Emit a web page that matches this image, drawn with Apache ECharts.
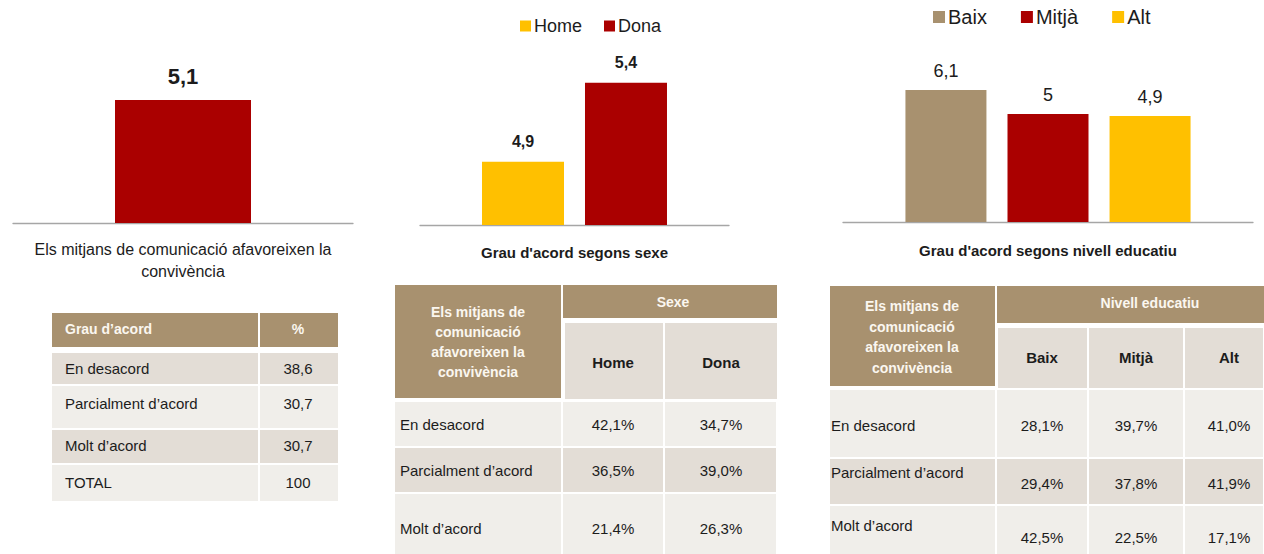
<!DOCTYPE html>
<html>
<head>
<meta charset="utf-8">
<script src="https://cdn.jsdelivr.net/npm/echarts@6/dist/echarts.min.js"></script>
<style>
html,body{margin:0;padding:0;background:#fff;}
#main{width:1264px;height:554px;}
</style>
</head>
<body>
<div id="main"></div>
<script>
// ---------- DATA ----------
const totalCaption = ['Els mitjans de comunicació afavoreixen la\nconvivència'];
const totalMean = [5.1];

const sexCaption = ["Grau d'acord segons sexe"];
const sexCats = ['Home', 'Dona'];
const sexMeans = [4.9, 5.4];

const eduCaption = ["Grau d'acord segons nivell educatiu"];
const eduCats = ['Baix', 'Mitjà', 'Alt'];
const eduMeans = [6.1, 5.0, 4.9];

const agreeRows = ['En desacord', 'Parcialment d’acord', 'Molt d’acord'];
const totalRowLabel = 'TOTAL';
const totalPct = [38.6, 30.7, 30.7];
const totalSum = [100];

const sexPct = {
  'Home': [42.1, 36.5, 21.4],
  'Dona': [34.7, 39.0, 26.3]
};
const eduPct = {
  'Baix': [28.1, 29.4, 42.5],
  'Mitjà': [39.7, 37.8, 22.5],
  'Alt': [41.0, 41.9, 17.1]
};
const t1Header = ['Grau d’acord', '%'];
const cornerHeader = 'Els mitjans de\ncomunicació\nafavoreixen la\nconvivència';
const sexGroupHeader = 'Sexe';
const eduGroupHeader = 'Nivell educatiu';

// ---------- STYLE ----------
const RED = '#aa0000', YEL = '#ffc000', TAN = '#a8916f';
const DARK_ROW = '#e3ddd6', LIGHT_ROW = '#f0eeea';
const HDR_TXT = '#fbf7f0', TXT = '#1c1c1c';
const FF = '"Liberation Sans", Arial, sans-serif';
const colorMap = { 'Home': YEL, 'Dona': RED, 'Baix': TAN, 'Mitjà': RED, 'Alt': YEL };

const comma = v => String(v).replace('.', ',');
const pct = v => v.toFixed(1).replace('.', ',') + '%';

// ---------- TABLE HELPERS ----------
const gfx = [];
function rect(x0, y0, x1, y1, fill) {
  gfx.push({ type: 'rect', silent: true, shape: { x: x0, y: y0, width: x1 - x0, height: y1 - y0 }, style: { fill: fill } });
}
function txt(x, y, text, opt) {
  opt = opt || {};
  gfx.push({
    type: 'text', silent: true, x: x, y: y,
    style: {
      text: text, fill: opt.color || TXT,
      font: (opt.bold ? 'bold ' : '') + (opt.size || 15) + 'px ' + FF,
      textAlign: opt.align || 'left', textVerticalAlign: 'middle',
      align: opt.align || 'left', verticalAlign: 'middle',
      lineHeight: opt.lineHeight || 18
    }
  });
}

// Table 1
(function () {
  const cols = [52, 259, 338];
  const hdr = [313, 347];
  const rows = [352, 385, 429, 464, 502];
  const textY = [368, 403, 445, 482];
  const valX = 298, labX = 65;
  rect(cols[0], hdr[0], cols[1] - 1, hdr[1], TAN);
  rect(cols[1] + 1, hdr[0], cols[2], hdr[1], TAN);
  txt(labX, 329, t1Header[0], { bold: true, color: HDR_TXT, size: 14 });
  txt(valX, 329, t1Header[1], { bold: true, color: HDR_TXT, align: 'center', size: 14 });
  const labels = agreeRows.concat([totalRowLabel]);
  const vals = totalPct.map(comma).concat(totalSum.map(String));
  for (let i = 0; i < labels.length; i++) {
    const c = i % 2 === 0 ? DARK_ROW : LIGHT_ROW;
    rect(cols[0], rows[i] + 1, cols[1] - 1, rows[i + 1] - 1, c);
    rect(cols[1] + 1, rows[i] + 1, cols[2], rows[i + 1] - 1, c);
    txt(labX, textY[i], labels[i]);
    txt(valX, textY[i], vals[i], { align: 'center' });
  }
})();

// Table 2 (sex)
(function () {
  rect(395, 285, 561, 398, TAN);
  txt(478, 342, cornerHeader, { bold: true, color: HDR_TXT, align: 'center', lineHeight: 20, size: 14 });
  rect(563, 285, 777, 318, TAN);
  txt(673, 302, sexGroupHeader, { bold: true, color: HDR_TXT, align: 'center', size: 14 });
  const subCols = [565, 664, 777];
  const centers = [613, 721];
  sexCats.forEach((c, j) => {
    rect(subCols[j] + (j ? 1 : 0), 323, subCols[j + 1] - (j ? 0 : 1), 399, DARK_ROW);
    txt(centers[j], 362, c, { bold: true, align: 'center' });
  });
  const cols = [395, 562, 664, 777];
  const rows = [401, 447, 493, 562];
  const textY = [424, 470, 528];
  agreeRows.forEach((lab, i) => {
    const fill = i % 2 === 0 ? LIGHT_ROW : DARK_ROW;
    for (let k = 0; k < 3; k++) rect(cols[k] + (k ? 1 : 0), rows[i] + 1, cols[k + 1] - 1, rows[i + 1] - 1, fill);
    txt(400, textY[i], lab);
    sexCats.forEach((c, j) => txt(centers[j], textY[i], pct(sexPct[c][i]), { align: 'center' }));
  });
})();

// Table 3 (education)
(function () {
  rect(830, 286, 995, 386, TAN);
  txt(912, 337, cornerHeader, { bold: true, color: HDR_TXT, align: 'center', lineHeight: 20.5, size: 14 });
  rect(997, 286, 1264, 323, TAN);
  txt(1150, 303, eduGroupHeader, { bold: true, color: HDR_TXT, align: 'center', size: 14 });
  const subCols = [998, 1088, 1184, 1264];
  const centers = [1042, 1136, 1229];
  eduCats.forEach((c, j) => {
    rect(subCols[j] + (j ? 1 : 0), 328, subCols[j + 1] - 1, 388, DARK_ROW);
    txt(centers[j], 357, c, { bold: true, align: 'center' });
  });
  const cols = [830, 996, 1088, 1184, 1264];
  const rows = [389, 458, 505, 562];
  const labY = [425, 472, 525];
  const valY = [425, 483, 537];
  agreeRows.forEach((lab, i) => {
    const fill = i % 2 === 0 ? LIGHT_ROW : DARK_ROW;
    for (let k = 0; k < 4; k++) rect(cols[k] + (k ? 1 : 0), rows[i] + 1, cols[k + 1] - 1, rows[i + 1] - 1, fill);
    txt(831, labY[i], lab);
    eduCats.forEach((c, j) => txt(centers[j], valY[i], pct(eduPct[c][i]), { align: 'center' }));
  });
})();

// ---------- CHARTS ----------
const axisLine = { show: true, lineStyle: { color: '#a6a6a6', width: 1.3 } };
function xCat(gridIndex, data, size, bold, margin) {
  return {
    type: 'category', gridIndex: gridIndex, data: data,
    axisLine: axisLine, axisTick: { show: false },
    axisLabel: { color: TXT, fontSize: size, fontWeight: bold ? 'bold' : 'normal', fontFamily: FF, margin: margin, lineHeight: 22, interval: 0 }
  };
}
function yVal(gridIndex, min, max) {
  return { type: 'value', gridIndex: gridIndex, min: min, max: max, show: false, splitLine: { show: false } };
}

const series = [];
series.push({
  type: 'bar', name: 'Total', xAxisIndex: 0, yAxisIndex: 0, data: totalMean,
  barWidth: 136, itemStyle: { color: RED },
  label: { show: true, position: 'top', distance: 12, formatter: p => comma(p.value), fontSize: 22, fontWeight: 'bold', color: TXT, fontFamily: FF }
});
sexCats.forEach((c, j) => series.push({
  type: 'bar', name: c, xAxisIndex: 1, yAxisIndex: 1, data: [sexMeans[j]],
  barWidth: 82, barGap: '25.6%', itemStyle: { color: colorMap[c] },
  label: { show: true, position: 'top', distance: 12, formatter: p => comma(p.value), fontSize: 16, fontWeight: 'bold', color: TXT, fontFamily: FF }
}));
eduCats.forEach((c, j) => series.push({
  type: 'bar', name: c, xAxisIndex: 2, yAxisIndex: 2, data: [eduMeans[j]],
  barWidth: 81, barGap: '26%', itemStyle: { color: colorMap[c] },
  label: { show: true, position: 'top', distance: 10, formatter: p => comma(p.value), fontSize: 18, color: TXT, fontFamily: FF }
}));

const option = {
  animation: false,
  backgroundColor: '#ffffff',
  grid: [
    { left: 13, width: 340, top: 30, height: 193 },
    { left: 420, width: 309, top: 67, height: 158 },
    { left: 843, width: 410, top: 49, height: 173 }
  ],
  xAxis: [
    xCat(0, totalCaption, 16, false, 15),
    xCat(1, sexCaption, 15, true, 16),
    xCat(2, eduCaption, 15, true, 17)
  ],
  yAxis: [yVal(0, 0, 8), yVal(1, 4.5, 5.5), yVal(2, 0, 8)],
  legend: [
    { data: sexCats, left: 520, top: 17, padding: 0, icon: 'rect', itemWidth: 11, itemHeight: 11, itemGap: 22,
      textStyle: { fontSize: 18, color: TXT, fontFamily: FF, padding: [0, 0, 0, -2] }, selectedMode: false },
    { data: eduCats, left: 933, top: 7, padding: 0, icon: 'rect', itemWidth: 12, itemHeight: 12, itemGap: 34,
      textStyle: { fontSize: 20, color: TXT, fontFamily: FF, padding: [0, 0, 0, -2] }, selectedMode: false }
  ],
  series: series,
  graphic: gfx
};

const chart = echarts.init(document.getElementById('main'), null, { renderer: 'svg' });
chart.setOption(option);
</script>
</body>
</html>
